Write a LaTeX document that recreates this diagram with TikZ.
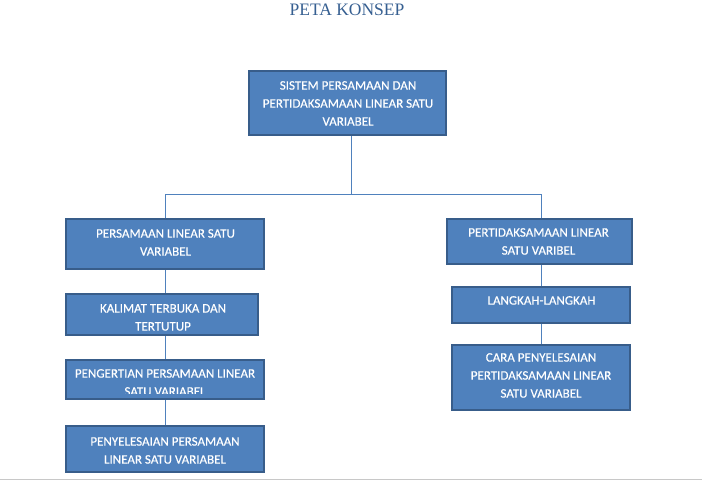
\documentclass[tikz,border=0pt]{standalone}
\usepackage{fontspec}
\setmainfont{Carlito}
\newfontfamily\boxfont[FakeBold=0.35]{Carlito}
\newfontfamily\titlefont{Liberation Serif}
\usetikzlibrary{fit}
\definecolor{boxfill}{HTML}{4F81BD}
\definecolor{boxborder}{HTML}{385D8A}
\definecolor{linecol}{HTML}{4F81BD}
\definecolor{titlecol}{HTML}{365F91}
\definecolor{pagegray}{HTML}{C8C8C8}
\tikzset{
  x=1pt, y=-1pt,
  box/.style={draw=boxborder, fill=boxfill, line width=1.6pt, rectangle, inner sep=0pt},
  txt/.style={text=white, font=\boxfont\fontsize{13}{18}\selectfont, align=center, inner sep=0pt, anchor=north},
  conn/.style={draw=linecol, line width=1pt}
}
\begin{document}
\begin{tikzpicture}
\useasboundingbox (0,0) rectangle (702,482);
\draw[pagegray, line width=1pt] (0,479.5) -- (702,479.5);
\node[text=titlecol, font=\titlefont\fontsize{17.5}{20}\selectfont, anchor=base, inner sep=0pt] (title) at (347,15) {PETA KONSEP};
% boxes
\node[box, fit={(248.8,70.8)(446.2,135.2)}] (top) {};
\node[box, fit={(65.8,218.8)(264.2,269.2)}] (l1) {};
\node[box, fit={(65.8,293.8)(258.2,335.2)}] (l2) {};
\node[box, fit={(65.8,359.8)(264.2,399.2)}] (l3) {};
\node[box, fit={(65.8,425.8)(264.2,472.2)}] (l4) {};
\node[box, fit={(446.8,218.8)(632.2,264.2)}] (r1) {};
\node[box, fit={(451.8,286.8)(630.2,323.2)}] (r2) {};
\node[box, fit={(451.8,344.8)(630.2,410.2)}] (r3) {};
% texts
\node[txt] (ttop) at (348,81) {SISTEM PERSAMAAN DAN\\PERTIDAKSAMAAN LINEAR SATU\\VARIABEL};
\node[txt] (tl1) at (165.5,229) {PERSAMAAN LINEAR SATU\\VARIABEL};
\node[txt] (tl2) at (163,304) {KALIMAT TERBUKA DAN\\TERTUTUP};
\begin{scope}
\clip (66,360) rectangle (264,393);
\node[txt] (tl3) at (165,369) {PENGERTIAN PERSAMAAN LINEAR\\SATU VARIABEL};
\end{scope}
\node[txt] (tl4) at (165,437) {PENYELESAIAN PERSAMAAN\\LINEAR SATU VARIABEL};
\node[txt] (tr1) at (538.5,228) {PERTIDAKSAMAAN LINEAR\\SATU VARIBEL};
\node[txt] (tr2) at (541.5,296) {LANGKAH-LANGKAH};
\node[txt] (tr3) at (541,353) {CARA PENYELESAIAN\\PERTIDAKSAMAAN LINEAR\\SATU VARIABEL};
% connectors
\coordinate (j) at (351,194);
\coordinate (jl) at (165.5,194);
\coordinate (jr) at (541.5,194);
\draw[conn] (top.south -| j) -- (j);
\draw[conn] (jl) -- (jr);
\draw[conn] (jl) -- (jl |- l1.north);
\draw[conn] (jr) -- (jr |- r1.north);
\draw[conn] (jl |- l1.south) -- (jl |- l2.north);
\draw[conn] (jl |- l2.south) -- (jl |- l3.north);
\draw[conn] (jl |- l3.south) -- (jl |- l4.north);
\draw[conn] (jr |- r1.south) -- (jr |- r2.north);
\draw[conn] (jr |- r2.south) -- (jr |- r3.north);
\end{tikzpicture}
\end{document}
